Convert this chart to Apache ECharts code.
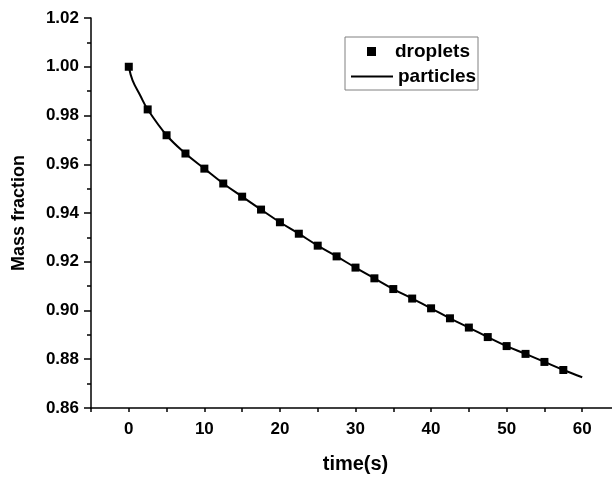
<!DOCTYPE html>
<html>
<head>
<meta charset="utf-8">
<title>Mass fraction</title>
<script src="https://cdn.jsdelivr.net/npm/echarts@6/dist/echarts.min.js"></script>
<style>
    html, body {margin: 0; padding: 0; background: #fff;}
    #massFraction {width: 612px; height: 480px;}
</style>
</head>
<body>
<div id="massFraction"></div>
<script>
// droplets (markers)
var dropletTimes = [0, 2.5, 5, 7.5, 10, 12.5, 15, 17.5, 20, 22.5, 25, 27.5, 30, 32.5, 35, 37.5, 40, 42.5, 45, 47.5, 50, 52.5, 55, 57.5];
var dropletValues = [1.000, 0.9825, 0.9719, 0.9644, 0.9582, 0.9521, 0.9467, 0.9414, 0.9362, 0.9315, 0.9266, 0.9222, 0.9176, 0.9132, 0.9088, 0.9049, 0.9009, 0.8968, 0.8930, 0.8891, 0.8854, 0.8822, 0.8789, 0.8756];
// particles (line)
var particleTimes = [0, 0.5, 1.5, 2.5, 5, 7.5, 10, 12.5, 15, 17.5, 20, 22.5, 25, 27.5, 30, 32.5, 35, 37.5, 40, 42.5, 45, 47.5, 50, 52.5, 55, 57.5, 60];
var particleValues = [1.000, 0.9944, 0.9883, 0.9825, 0.9719, 0.9644, 0.9582, 0.9521, 0.9467, 0.9414, 0.9362, 0.9315, 0.9266, 0.9222, 0.9176, 0.9132, 0.9088, 0.9049, 0.9009, 0.8968, 0.8930, 0.8891, 0.8854, 0.8822, 0.8789, 0.8756, 0.8726];

var FONT = 'Liberation Sans, Arial, sans-serif';

function pairs(xs, ys) {
    return xs.map(function (x, i) {
        return [x, ys[i]];
    });
}

massFractionChart();

/**
 * 质量分数随时间变化
 */
function massFractionChart() {
    var myChart = echarts.init(document.getElementById('massFraction'));
    var option = {
        backgroundColor: '#fff',
        animation: false,
        textStyle: {fontFamily: FONT, fontWeight: 'bold', color: '#000'},
        grid: {left: 91, right: -8, top: 18, bottom: 72, containLabel: false, outerBoundsMode: 'none'},
        graphic: [{
            type: 'rect',
            shape: {x: 345, y: 37, width: 133, height: 53},
            style: {fill: 'none', stroke: '#808080', lineWidth: 1},
            z: 10
        }],
        legend: [
            {
                data: ['droplets'],
                left: 367, top: 42, padding: 0,
                itemWidth: 9, itemHeight: 9,
                icon: 'rect',
                textStyle: {fontFamily: FONT, fontWeight: 'bold', fontSize: 19, color: '#000', padding: [0, 0, 0, 14]}
            },
            {
                data: ['particles'],
                left: 351, top: 67, padding: 0,
                itemWidth: 42, itemHeight: 2,
                icon: 'rect',
                textStyle: {fontFamily: FONT, fontWeight: 'bold', fontSize: 19, color: '#000'}
            }
        ],
        xAxis: {
            type: 'value',
            min: -5, max: 65, interval: 5,
            name: 'time(s)',
            nameLocation: 'middle',
            nameGap: 46,
            nameTextStyle: {fontFamily: FONT, fontWeight: 'bold', fontSize: 20, color: '#000'},
            axisLine: {onZero: false, lineStyle: {color: '#000', width: 1.5}},
            axisTick: {length: 4, lineStyle: {color: '#000', width: 1.5}},
            axisLabel: {
                margin: 13, fontFamily: FONT, fontWeight: 'bold', fontSize: 17, color: '#000',
                formatter: function (v) {
                    return v % 10 === 0 && v >= 0 && v <= 60 ? String(v) : '';
                }
            },
            splitLine: {show: false}
        },
        yAxis: {
            type: 'value',
            min: 0.86, max: 1.02, interval: 0.02,
            name: 'Mass fraction',
            nameLocation: 'middle',
            nameGap: 63,
            nameTextStyle: {fontFamily: FONT, fontWeight: 'bold', fontSize: 18, color: '#000'},
            axisLine: {show: true, onZero: false, lineStyle: {color: '#000', width: 1.5}},
            axisTick: {length: 7, lineStyle: {color: '#000', width: 1.5}},
            minorTick: {show: true, splitNumber: 2, length: 4, lineStyle: {color: '#000', width: 1.5}},
            axisLabel: {
                margin: 12, fontFamily: FONT, fontWeight: 'bold', fontSize: 17, color: '#000',
                formatter: function (v) {
                    return v.toFixed(2);
                }
            },
            splitLine: {show: false}
        },
        series: [
            {
                name: 'particles',
                type: 'line',
                data: pairs(particleTimes, particleValues),
                symbol: 'none',
                smooth: 0.4,
                lineStyle: {color: '#000', width: 2},
                itemStyle: {color: '#000'},
                z: 2
            },
            {
                name: 'droplets',
                type: 'scatter',
                data: pairs(dropletTimes, dropletValues),
                symbol: 'rect',
                symbolSize: 8,
                itemStyle: {color: '#000', opacity: 1},
                z: 3
            }
        ]
    };
    myChart.setOption(option, true);
}
</script>
</body>
</html>
